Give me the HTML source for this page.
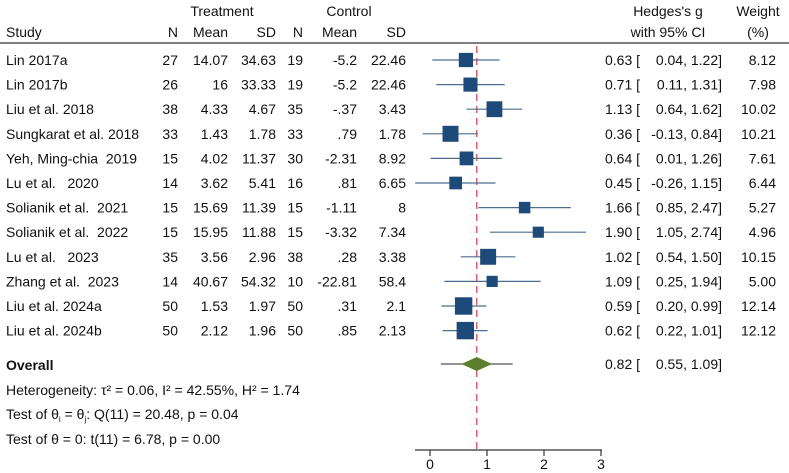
<!DOCTYPE html>
<html><head><meta charset="utf-8"><style>
body{margin:0;background:#fff;}
svg{display:block;font-family:"Liberation Sans",Arial,sans-serif;font-size:14px;fill:#111;}
text{white-space:pre;}
</style></head><body>
<svg id="chart" width="789" height="473">
<g id="hdr">
<text x="222" y="16" text-anchor="middle">Treatment</text>
<text x="349" y="16" text-anchor="middle">Control</text>
<text x="6" y="37">Study</text>
<text x="178" y="37" text-anchor="end">N</text>
<text x="228" y="37" text-anchor="end">Mean</text>
<text x="276" y="37" text-anchor="end">SD</text>
<text x="303" y="37" text-anchor="end">N</text>
<text x="357" y="37" text-anchor="end">Mean</text>
<text x="406" y="37" text-anchor="end">SD</text>
<text x="668" y="16" text-anchor="middle">Hedges's g</text>
<text x="668" y="37" text-anchor="middle">with 95% CI</text>
<text x="758" y="16" text-anchor="middle">Weight</text>
<text x="758" y="37" text-anchor="middle">(%)</text>
<line x1="0" y1="43" x2="789" y2="43" stroke="#555" stroke-width="1.5"/>
</g>
<g id="rows"></g>
<g id="foot">
<text x="6" y="370" font-weight="bold">Overall</text>
<text x="6" y="395">Heterogeneity: τ² = 0.06, I² = 42.55%, H² = 1.74</text>
<text x="6" y="419">Test of θ<tspan font-size="8" dy="3">i</tspan><tspan dy="-3"> = θ</tspan><tspan font-size="8" dy="3">j</tspan><tspan dy="-3">: Q(11) = 20.48, p = 0.04</tspan></text>
<text x="6" y="444">Test of θ = 0: t(11) = 6.78, p = 0.00</text>
</g>
</svg>
<script>
const studies=["Lin 2017a","Lin 2017b","Liu et al. 2018","Sungkarat et al. 2018","Yeh, Ming-chia  2019","Lu et al.   2020","Solianik et al.  2021","Solianik et al.  2022","Lu et al.   2023","Zhang et al.  2023","Liu et al. 2024a","Liu et al. 2024b"];
const tN=["27","26","38","33","15","14","15","15","35","14","50","50"];
const tMean=["14.07","16","4.33","1.43","4.02","3.62","15.69","15.95","3.56","40.67","1.53","2.12"];
const tSD=["34.63","33.33","4.67","1.78","11.37","5.41","11.39","11.88","2.96","54.32","1.97","1.96"];
const cN=["19","19","35","33","30","16","15","15","38","10","50","50"];
const cMean=["-5.2","-5.2","-.37",".79","-2.31",".81","-1.11","-3.32",".28","-22.81",".31",".85"];
const cSD=["22.46","22.46","3.43","1.78","8.92","6.65","8","7.34","3.38","58.4","2.1","2.13"];
const g=[0.63,0.71,1.13,0.36,0.64,0.45,1.66,1.90,1.02,1.09,0.59,0.62];
const lo=[0.04,0.11,0.64,-0.13,0.01,-0.26,0.85,1.05,0.54,0.25,0.20,0.22];
const hi=[1.22,1.31,1.62,0.84,1.26,1.15,2.47,2.74,1.50,1.94,0.99,1.01];
const weights=[8.12,7.98,10.02,10.21,7.61,6.44,5.27,4.96,10.15,5.00,12.14,12.12];
const overall=[0.82,0.55,1.09];
const predInt=[0.19,1.45];
const ticks=[0,1,2,3];

const NS="http://www.w3.org/2000/svg";
const svg=document.getElementById('chart');
const X=v=>430+v*57;
const rowY=i=>60+i*24.6;
function el(t,a,p){const e=document.createElementNS(NS,t);for(const k in a)e.setAttribute(k,a[k]);(p||svg).appendChild(e);return e;}
function txt(x,y,s,anchor){const e=el('text',{x:x,y:y,'text-anchor':anchor||'start'});e.textContent=s;return e;}
const f2=v=>(v<0?'':' ')+v.toFixed(2);
const ref=el('line',{x1:X(overall[0]),x2:X(overall[0]),y1:46,y2:450,stroke:'#d9606a','stroke-width':1.5,'stroke-dasharray':'7,5'});


studies.forEach((s,i)=>{
  const y=rowY(i), ty=y+5;
  let t=txt(6,ty,s);
  
  
  [[178,tN],[228,tMean],[276,tSD],[303,cN],[357,cMean],[406,cSD]].forEach(c=>{
    const e=txt(c[0],ty,c[1][i],'end');
    
    
  });
  const ci=el('line',{x1:X(lo[i]),x2:X(hi[i]),y1:y,y2:y,stroke:'#4d6d8f','stroke-width':1.2});
  
  
  const sz=5*Math.sqrt(weights[i]);
  const sq=el('rect',{x:X(g[i])-sz/2,y:y-sz/2,width:sz,height:sz,fill:'#1d4a78'});
  
  
  const c=txt(605,ty,g[i].toFixed(2)+' [');
  
  
  const c2=txt(722,ty,f2(lo[i])+', '+f2(hi[i]).trim()+']','end');
  
  
  const w=txt(776,ty,weights[i].toFixed(2),'end');
  
  
});
const oy=364;
const pl=el('line',{x1:X(predInt[0]),x2:X(predInt[1]),y1:oy,y2:oy,stroke:'#555','stroke-width':1.2});


const dm=el('polygon',{points:`${X(overall[1])},${oy} ${X(overall[0])},${oy-7} ${X(overall[2])},${oy} ${X(overall[0])},${oy+7}`,fill:'#5b7f2e'});


let ot=txt(605,oy+5,overall[0].toFixed(2)+' [');


let ot2=txt(722,oy+5,f2(overall[1])+', '+f2(overall[2]).trim()+']','end');


const ax=el('line',{x1:415,x2:602,y1:450,y2:450,stroke:'#333','stroke-width':1.2});


ticks.forEach(v=>{
  const tk=el('line',{x1:X(v),x2:X(v),y1:450,y2:456,stroke:'#333','stroke-width':1.2});
  
  
  const tl=txt(X(v),469,String(v),'middle');
  
  
});
</script>
</body></html>
